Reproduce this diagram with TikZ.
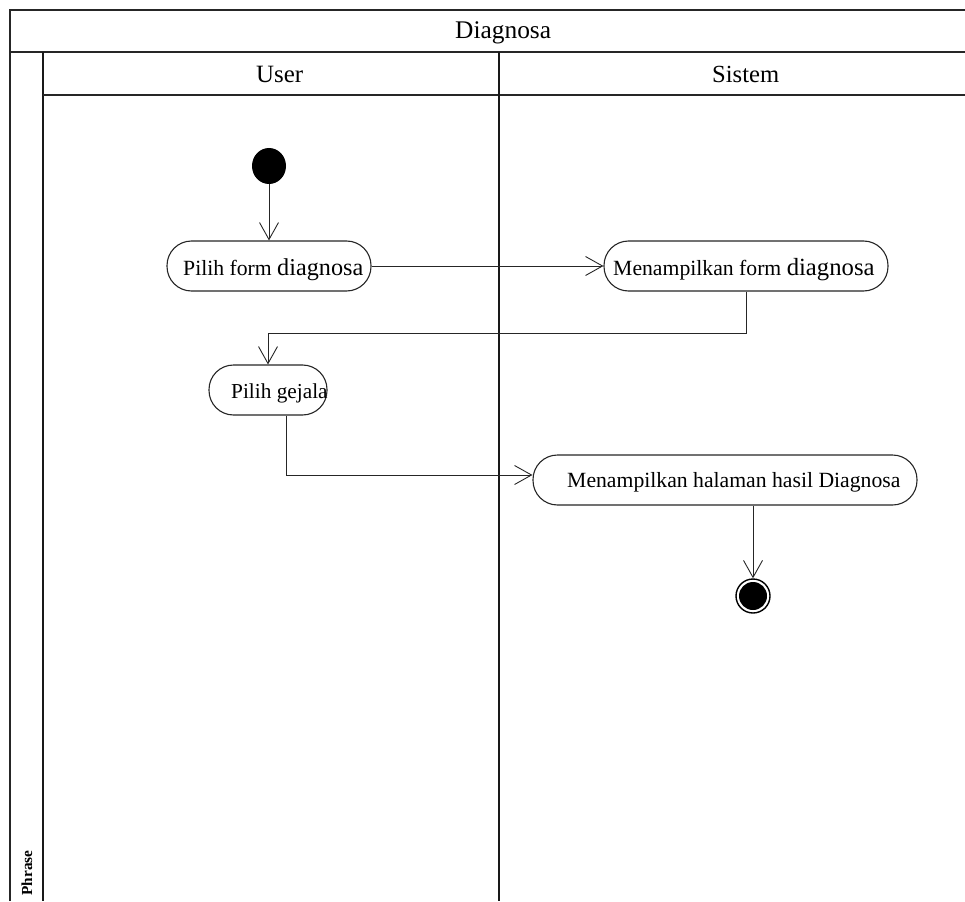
\documentclass[tikz,border=0pt]{standalone}
\usepackage{fontspec}
\setmainfont{Liberation Serif}
\usetikzlibrary{arrows.meta,shapes.geometric}
\newcommand{\fsz}[1]{\fontsize{#1}{#1}\selectfont}
\begin{document}
\begin{tikzpicture}[x=1pt,y=-1pt,
  frameline/.style={line width=1.6pt,draw=black!85},
  laneline/.style={line width=2pt,draw=black!90},
  action/.style={draw=black!85,line width=1.1pt,rounded corners=24.5pt,
    minimum height=50pt,inner sep=0pt,fill=white},
  lbl/.style={inner sep=0pt,anchor=base west,font=\fsz{21.7}},
  flow/.style={line width=0.9pt,draw=black!85,
    -{Straight Barb[length=17pt,width=19pt,line width=0.9pt]}},
  startnode/.style={ellipse,fill=black,minimum width=34pt,minimum height=36pt,inner sep=0pt},
]
\useasboundingbox (0,0) rectangle (965,901);

% swimlane frame
\draw[frameline] (10,901) -- (10,10) -- (965,10);
\draw[frameline] (10,52) -- (965,52);
\draw[laneline] (43,52) -- (43,901);
\draw[frameline] (43,95) -- (965,95);
\draw[laneline] (499,52) -- (499,901);

% headers
\node[lbl,font=\fsz{25.4}] (title) at (455,39) {Diagnosa};
\node[lbl,font=\fsz{24.9}] (laneuser) at (256,83) {User};
\node[lbl,font=\fsz{24.6}] (lanesys) at (712,83) {Sistem};
\node[rotate=90,inner sep=0pt,font=\bfseries\fsz{15.3}] (phrase) at (27,873) {Phrase};

% initial and final states
\node[startnode] (start) at (269,166) {};
\node[circle,draw=black,line width=1.4pt,fill=white,minimum size=34pt,inner sep=0pt] (end) at (753,596) {};
\node[circle,fill=black,minimum size=28pt,inner sep=0pt] (endcore) at (753,596) {};

% actions
\node[action,minimum width=204pt] (b1) at (269,266) {};
\node[action,minimum width=284pt] (b2) at (746,266) {};
\node[action,minimum width=118pt] (b3) at (268,390) {};
\node[action,minimum width=384pt] (b4) at (725,480) {};

\node[lbl] (t1) at (183,275) {Pilih form {\fsz{24.2}diagnosa}};
\node[lbl] (t2) at (613,275) {Menampilkan form {\fsz{24.7}diagnosa}};
\node[lbl,font=\fsz{21.3}] (t3) at (231,398) {Pilih gejala};
\node[lbl] (t4) at (567,487) {Menampilkan halaman hasil Diagnosa};

% control flow
\draw[flow] (start.south) -- (b1.north);
\draw[flow] (b1.east) -- (b2.west);
\draw[flow] (b2.south) -- (b2.south |- 0,333) -| (b3.north);
\draw[flow] ([xshift=18pt]b3.south) |- ([yshift=5pt]b4.west);
\draw[flow] ([xshift=28pt]b4.south) -- (end.north);
\end{tikzpicture}
\end{document}
